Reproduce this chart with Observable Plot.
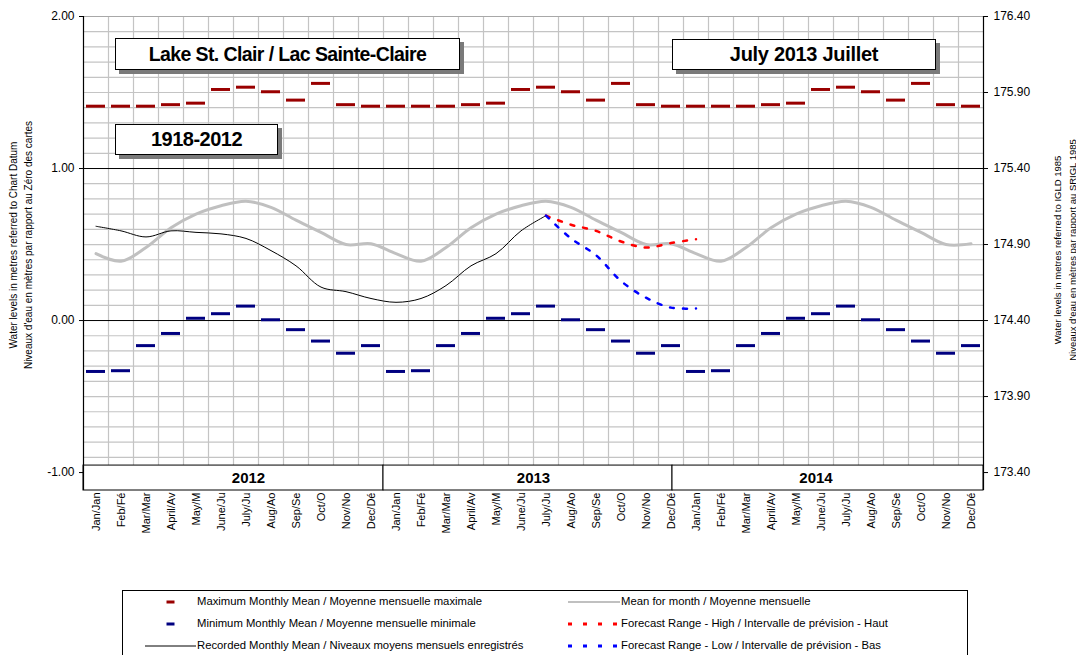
<!DOCTYPE html>
<html>
<head>
<meta charset="utf-8">
<script src="https://cdn.jsdelivr.net/npm/d3@7"></script>
<script src="https://cdn.jsdelivr.net/npm/@observablehq/plot@0.6"></script>
<style>
  body { margin: 0; background: #fff; font-family: "Liberation Sans", Arial, sans-serif; }
  #wrap { position: relative; width: 1076px; height: 655px; overflow: hidden; background: #fff; }
  #chart { position: absolute; left: 0; top: 0; }
  .tbox { position: absolute; box-sizing: border-box; background: #fff; border: 1px solid #000;
          box-shadow: 4px 4px 0 #7a7a7a; font-weight: bold; color: #000;
          display: flex; align-items: center; justify-content: center; white-space: nowrap; }
  .ytitle { position: absolute; transform: translate(-50%, -50%) rotate(-90deg); white-space: nowrap;
            text-align: center; color: #000; }
  #legend { position: absolute; left: 122px; top: 590px; width: 846px; height: 80px; box-sizing: border-box;
            border: 1px solid #000; background: #fff; }
  .lrow { position: absolute; font-size: 11.3px; color: #000; white-space: nowrap; line-height: 14px; }
  .lsw { position: absolute; }
</style>
</head>
<body>
<div id="wrap">
  <div id="chart"></div>
</div>
<script>
// ---------------- data ----------------
const monthLabels = ["Jan/Jan", "Feb/Fé", "Mar/Mar", "April/Av", "May/M", "June/Ju",
                     "July/Ju", "Aug/Ao", "Sep/Se", "Oct/O", "Nov/No", "Dec/Dé"];
const years = ["2012", "2013", "2014"];
// 1918-2012 monthly statistics, metres above chart datum
const maxMonthly  = [1.41, 1.41, 1.41, 1.42, 1.43, 1.52, 1.535, 1.505, 1.45, 1.56, 1.42, 1.41];
const minMonthly  = [-0.335, -0.33, -0.165, -0.085, 0.015, 0.045, 0.095, 0.005, -0.06, -0.135, -0.215, -0.165];
const meanMonthly = [0.44, 0.39, 0.48, 0.61, 0.70, 0.755, 0.785, 0.745, 0.66, 0.58, 0.50, 0.505];
// recorded monthly mean, Jan 2012 .. Jul 2013
const recorded = [0.62, 0.59, 0.55, 0.59, 0.58, 0.57, 0.54, 0.46, 0.36, 0.22, 0.19, 0.145,
                  0.12, 0.145, 0.23, 0.36, 0.44, 0.59, 0.69];
// forecast range, Jul 2013 .. Jan 2014
const forecastHigh = [0.69, 0.63, 0.59, 0.52, 0.48, 0.51, 0.535];
const forecastLow  = [0.69, 0.54, 0.43, 0.26, 0.15, 0.085, 0.08];
const forecastStartMonth = 18;          // index of Jul 2013
const leftTicks  = [-1, 0, 1, 2];
const rightTicks = [-1, -0.5, 0, 0.5, 1, 1.5, 2];
const datumOffset = 174.40;             // chart datum, IGLD 1985

// ---------------- layout ----------------
const yMin = -1.118, yMax = 2.0, bandTop = -0.954;
const nMonths = 36;
const yearSpans = [[0, 12], [12, 23.56], [23.56, 36]];
const yearLabelAt = [6.6, 18.0, 29.3];

const months = d3.range(nMonths).map(i => ({
  i, label: monthLabels[i % 12],
  max: maxMonthly[i % 12], min: minMonthly[i % 12], mean: meanMonthly[i % 12]
}));
const recData = recorded.map((v, i) => ({i, v}));
const hiData = forecastHigh.map((v, k) => ({i: forecastStartMonth + k, v}));
const loData = forecastLow.map((v, k) => ({i: forecastStartMonth + k, v}));
const gridY = d3.range(-9, 20).map(k => k / 10).filter(v => Math.abs(v) > 1e-9 && Math.abs(v - 1) > 1e-9);
const yearData = years.map((y, k) => ({year: y, x1: yearSpans[k][0], x2: yearSpans[k][1], at: yearLabelAt[k]}));
const cx = d => d.i + 0.5;

const chart = Plot.plot({
  width: 1076, height: 590,
  marginLeft: 83, marginRight: 93, marginTop: 16, marginBottom: 100,
  style: {fontFamily: "'Liberation Sans', Arial, sans-serif", fontSize: "12px", color: "#000", background: "#fff"},
  x: {domain: [0, nMonths], axis: null},
  y: {domain: [yMin, yMax], axis: null},
  marks: [
    // grid
    Plot.ruleY(gridY, {x1: 0, x2: nMonths, stroke: "#c4c4c4", strokeWidth: 1.2}),
    Plot.ruleX(d3.range(1, nMonths), {y1: bandTop, y2: yMax, stroke: "#c4c4c4", strokeWidth: 1.2}),
    Plot.ruleY([yMax], {x1: 0, x2: nMonths, stroke: "#a8a8a8", strokeWidth: 1.2}),
    Plot.ruleY([0, 1], {x1: 0, x2: nMonths, stroke: "#000", strokeWidth: 1}),
    // year band
    Plot.rect(yearData, {x1: "x1", x2: "x2", y1: bandTop, y2: yMin, fill: "#fff", stroke: "#000", strokeWidth: 1}),
    Plot.text(yearData, {x: "at", y: (bandTop + yMin) / 2, text: "year", fontWeight: "bold", fontSize: 15, letterSpacing: -0.5}),
    Plot.ruleX([0, nMonths], {y1: yMin, y2: yMax, stroke: "#000", strokeWidth: 1.2}),
    // axes
    Plot.axisY({anchor: "left", ticks: leftTicks, tickFormat: d => d.toFixed(2), tickSize: 4, tickPadding: 5, label: null, fontSize: 12}),
    Plot.axisY({anchor: "right", ticks: rightTicks, tickFormat: d => (d + datumOffset).toFixed(2), tickSize: 4, tickPadding: 6, label: null, fontSize: 12}),
    // month labels
    Plot.text(months, {x: cx, y: yMin, text: "label", rotate: -90, textAnchor: "end", fontSize: 11, dy: 2}),
    // mean for month
    Plot.line(months, {x: cx, y: "mean", stroke: "#c0c0c0", strokeWidth: 3, curve: "catmull-rom"}),
    // max / min monthly means
    Plot.ruleY(months, {y: "max", x1: d => d.i + 0.12, x2: d => d.i + 0.88, stroke: "#990000", strokeWidth: 3}),
    Plot.ruleY(months, {y: "min", x1: d => d.i + 0.12, x2: d => d.i + 0.88, stroke: "#000080", strokeWidth: 3}),
    // recorded
    Plot.line(recData, {x: cx, y: "v", stroke: "#000", strokeWidth: 1, curve: "catmull-rom"}),
    // forecasts
    Plot.line(hiData, {x: cx, y: "v", stroke: "#ff0000", strokeWidth: 2.5, strokeDasharray: "4,9", curve: "catmull-rom"}),
    Plot.line(loData, {x: cx, y: "v", stroke: "#0000ff", strokeWidth: 2.5, strokeDasharray: "4,9", curve: "catmull-rom"})
  ]
});
document.getElementById("chart").appendChild(chart);

// ---------------- titles ----------------
const wrap = document.getElementById("wrap");
const titleBoxes = [
  {text: "Lake St. Clair / Lac Sainte-Claire", left: 115, top: 38, w: 345, h: 32, size: 19.5, ls: -0.6},
  {text: "1918-2012", left: 115, top: 124, w: 163, h: 31, size: 20, ls: -0.5},
  {text: "July 2013 Juillet", left: 672, top: 39, w: 264, h: 31, size: 20, ls: -0.3}
];
titleBoxes.forEach(b => {
  const d = document.createElement("div");
  d.className = "tbox";
  Object.assign(d.style, {left: b.left + "px", top: b.top + "px", width: b.w + "px", height: b.h + "px",
                          fontSize: b.size + "px", letterSpacing: b.ls + "px"});
  d.textContent = b.text;
  wrap.appendChild(d);
});

const yTitles = [
  {lines: ["Water levels in metres referred to Chart Datum", "Niveaux d'eau en mètres par rapport au Zéro des cartes"], x: 20.5, y: 245, size: 10},
  {lines: ["Water levels in metres referred to IGLD 1985", "Niveaux d'eau en mètres par rapport au SRIGL 1985"], x: 1064.5, y: 250, size: 9.5}
];
yTitles.forEach(t => {
  const d = document.createElement("div");
  d.className = "ytitle";
  Object.assign(d.style, {left: t.x + "px", top: t.y + "px", fontSize: t.size + "px", lineHeight: "15px"});
  d.innerHTML = t.lines.join("<br>");
  wrap.appendChild(d);
});

// ---------------- legend ----------------
const legendItems = [
  {label: "Maximum Monthly Mean / Moyenne mensuelle maximale", col: 0, row: 0, type: "dash", color: "#990000"},
  {label: "Mean for month / Moyenne mensuelle", col: 1, row: 0, type: "line", color: "#c0c0c0"},
  {label: "Minimum Monthly Mean / Moyenne mensuelle minimale", col: 0, row: 1, type: "dash", color: "#000080"},
  {label: "Forecast Range - High / Intervalle de prévision - Haut", col: 1, row: 1, type: "dashed", color: "#ff0000"},
  {label: "Recorded Monthly Mean / Niveaux moyens mensuels enregistrés", col: 0, row: 2, type: "line", color: "#000"},
  {label: "Forecast Range - Low / Intervalle de prévision - Bas", col: 1, row: 2, type: "dashed", color: "#0000ff"}
];
const legend = document.createElement("div");
legend.id = "legend";
wrap.appendChild(legend);
const colText = [74, 498], colSw = [[22, 73], [445, 497]], rowY = [11, 33, 55];
legendItems.forEach(it => {
  const sw = document.createElementNS("http://www.w3.org/2000/svg", "svg");
  const [a, b] = colSw[it.col];
  sw.setAttribute("width", b - a); sw.setAttribute("height", 6);
  sw.setAttribute("class", "lsw");
  sw.style.left = a + "px"; sw.style.top = (rowY[it.row] - 3) + "px";
  const ln = document.createElementNS("http://www.w3.org/2000/svg", "line");
  const w = b - a;
  if (it.type === "dash") { ln.setAttribute("x1", w / 2 - 4); ln.setAttribute("x2", w / 2 + 4); ln.setAttribute("stroke-width", 3); }
  else if (it.type === "line") { ln.setAttribute("x1", 0); ln.setAttribute("x2", w); ln.setAttribute("stroke-width", it.color === "#000" ? 1 : 2); }
  else { ln.setAttribute("x1", 0); ln.setAttribute("x2", w); ln.setAttribute("stroke-width", 3); ln.setAttribute("stroke-dasharray", "4,11"); }
  ln.setAttribute("y1", 3); ln.setAttribute("y2", 3); ln.setAttribute("stroke", it.color);
  sw.appendChild(ln);
  legend.appendChild(sw);
  const t = document.createElement("div");
  t.className = "lrow";
  t.style.left = colText[it.col] + "px"; t.style.top = (rowY[it.row] - 8) + "px";
  t.textContent = it.label;
  legend.appendChild(t);
});
</script>
</body>
</html>
